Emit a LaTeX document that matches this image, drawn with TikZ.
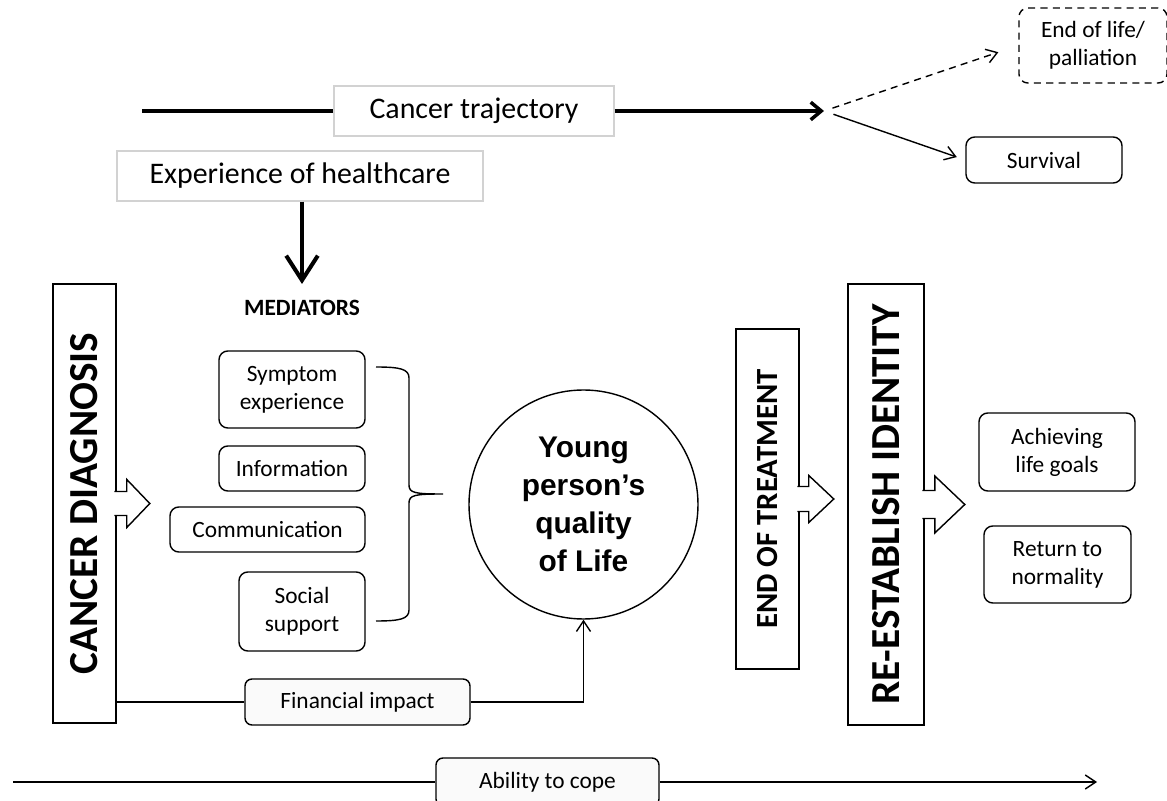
\documentclass[tikz,border=0pt]{standalone}
\usepackage{fontspec}
\setmainfont{Carlito}
\newfontfamily\qolfont{Liberation Sans}
\usepackage{graphicx}
\usetikzlibrary{arrows.meta,calc}

\begin{document}
\begin{tikzpicture}[x=0.2mm, y=-0.2mm,
    mbox/.style={draw, rounded corners=5pt, line width=0.8pt, align=center,
                 font=\fontsize{13.3}{16}\selectfont},
    gbox/.style={draw=gray!35, fill=white, line width=0.8pt,
                 font=\fontsize{17}{20}\selectfont},
    cbox/.style={draw, rounded corners=4pt, fill=gray!4, line width=0.8pt,
                 font=\fontsize{13.3}{16}\selectfont},
    vbox/.style={draw, line width=0.9pt},
    blockarr/.style={draw, fill=white, line width=0.8pt},
    thinline/.style={line width=0.8pt},
    thinarrow/.style={line width=0.8pt, -{Straight Barb[length=6pt, width=8pt]}},
]
\useasboundingbox (0,0) rectangle (1167,801);

% Top: trajectory and healthcare
\node[gbox, minimum width=5.6cm, minimum height=1cm] (traj) at (474,111) {Cancer trajectory};
\node[gbox, minimum width=7.32cm, minimum height=1cm] (health) at (300,176) {Experience of healthcare};
\coordinate (trajl) at (142,111);
\coordinate (split) at (824,111);

\node[mbox, dash pattern=on 4pt off 3pt, minimum width=2.96cm, minimum height=1.5cm] (eol) at (1093,45.5) {End of life/\\palliation};
\node[mbox, minimum width=3.12cm, minimum height=0.92cm] (surv) at (1044,160) {Survival};

\draw[line width=2pt] (trajl) -- (traj.west);
\draw[line width=2pt, -{Straight Barb[length=6pt, width=10pt]}] (traj.east) -- (split);
\draw[thinarrow, dash pattern=on 4pt off 3pt, shorten <=1.8mm, shorten >=4.2mm] (split) -- (eol.west);
\draw[thinarrow, shorten <=2mm, shorten >=1.8mm] (split) -- (surv.west);

% Mediators
\node[font=\fontsize{13.3}{16}\bfseries\selectfont] (med) at (302,308) {MEDIATORS};
\coordinate (medtip) at (302,284);
\draw[line width=2.3pt, -{Straight Barb[length=14pt, width=18pt]}] (health.south -| medtip) -- (medtip);

\node[mbox, minimum width=2.92cm, minimum height=1.54cm] (symp) at (292,389.5) {Symptom\\experience};
\node[mbox, minimum width=2.92cm, minimum height=0.9cm] (info) at (292,468.5) {Information};
\node[mbox, minimum width=3.9cm, minimum height=0.9cm] (comm) at (267.5,529.5) {Communication};
\node[mbox, minimum width=2.52cm, minimum height=1.58cm] (soc) at (302,611.5) {Social\\support};

% Brace
\draw[thinline] (376,367) .. controls (400,367) and (409,369) .. (409,378) -- (409,485)
    .. controls (409,493) and (415,494) .. (443,494)
    .. controls (415,494) and (409,495) .. (409,503) -- (409,610)
    .. controls (409,619) and (400,621) .. (376,621);

% Quality of life
\node[circle, draw, line width=0.8pt, minimum size=4.58cm, align=center,
      font=\qolfont\fontsize{17}{21.5}\bfseries\selectfont] (qol) at (583.5,504.5)
      {Young\\person’s\\quality\\of Life};

% Stages
\node[vbox, minimum width=1.26cm, minimum height=8.78cm, font=\fontsize{23.5}{28}\bfseries\selectfont]
    (diag) at (84.5,503.5) {\rotatebox{90}{CANCER DIAGNOSIS}};
\node[vbox, minimum width=1.26cm, minimum height=6.8cm, font=\fontsize{17.5}{21}\bfseries\selectfont]
    (eot) at (767.5,499) {\rotatebox{90}{END OF TREATMENT}};
\node[vbox, minimum width=1.52cm, minimum height=8.82cm, font=\fontsize{23.5}{28}\bfseries\selectfont]
    (reid) at (886,504.5) {\rotatebox{90}{RE-ESTABLISH IDENTITY}};

\foreach \src/\sw/\hw/\sl/\hl in {diag/12/24/10/23, eot/12.5/23.5/9/25, reid/14/28.5/10/30}
    \filldraw[blockarr] ($(\src.east)+(-2.5,-\sw)$) -- ++(\sl+2.5,0) -- ++(0,\sw-\hw)
        -- ++(\hl,\hw) -- ++(-\hl,\hw) -- ++(0,\sw-\hw) -- ++(-\sl-2.5,0);

% Outcomes
\node[mbox, minimum width=3.12cm, minimum height=1.56cm] (goals) at (1057,452) {Achieving\\life goals};
\node[mbox, minimum width=2.94cm, minimum height=1.54cm] (norm) at (1057.5,564.5) {Return to\\normality};

% Financial impact and coping
\node[cbox, minimum width=4.5cm, minimum height=0.92cm] (fin) at (357.5,702) {Financial impact};
\draw[thinline] (diag.east |- fin.west) -- (fin.west);
\draw[thinarrow] (fin.east) -| (qol.south);

\node[cbox, minimum width=4.46cm, minimum height=0.96cm] (cope) at (547.5,782) {Ability to cope};
\coordinate (copel) at (13,782);
\coordinate (coper) at (1097,782);
\draw[thinline] (copel) -- (cope.west);
\draw[thinarrow] (cope.east) -- (coper);

\end{tikzpicture}
\end{document}
